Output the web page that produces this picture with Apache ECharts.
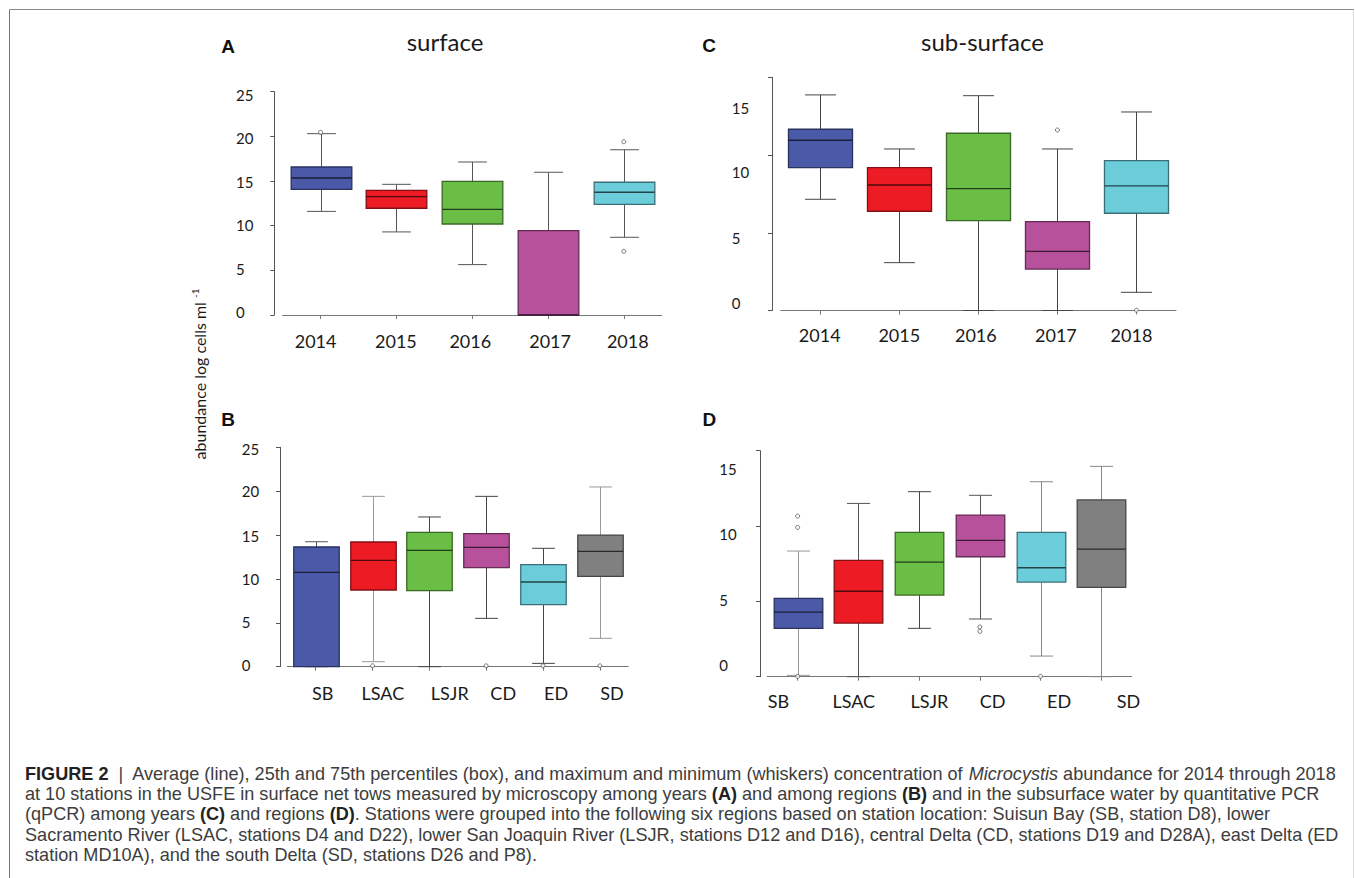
<!DOCTYPE html>
<html><head><meta charset="utf-8">
<script src="https://cdn.jsdelivr.net/npm/echarts@6/dist/echarts.min.js"></script>
<style>html,body{margin:0;padding:0;background:#fff}#c{width:1355px;height:878px}</style>
</head><body><div id="c"></div>
<script>
// ---------------- DATA ----------------
const yearCats = ['2014', '2015', '2016', '2017', '2018'];
const regionCats = ['SB', 'LSAC', 'LSJR', 'CD', 'ED', 'SD'];
const surfaceTicks = [0, 5, 10, 15, 20, 25];
const subTicks = [0, 5, 10, 15];
// each box: [min, q1, median, q3, max]
const surfaceYearBoxes = [
  [11.6, 14.07, 15.34, 16.57, 20.3],
  [9.3, 11.95, 13.25, 13.96, 14.63],
  [5.64, 10.19, 11.83, 14.97, 17.13],
  [0, 0, 0, 9.44, 15.98],
  [8.7, 12.39, 13.74, 14.86, 18.5]
];
const surfaceYearOutliers = [[0, 20.45], [4, 19.4], [4, 7.13]];
const surfaceRegionBoxes = [
  [0, 0, 10.75, 13.64, 14.24],
  [0.57, 8.74, 12.12, 14.21, 19.41],
  [0, 8.66, 13.26, 15.31, 17.06],
  [5.51, 11.28, 13.6, 15.16, 19.41],
  [0.38, 7.07, 9.65, 11.62, 13.49],
  [3.23, 10.3, 13.15, 15.0, 20.48]
];
const surfaceRegionOutliers = [[1, 0.1], [3, 0.1], [4, 0.1], [5, 0.1]];
const subYearBoxes = [
  [7.16, 9.2, 10.96, 11.67, 13.88],
  [3.08, 6.39, 8.08, 9.2, 10.4],
  [0, 5.78, 7.84, 11.41, 13.83],
  [0, 2.67, 3.81, 5.72, 10.4],
  [1.17, 6.26, 8.02, 9.65, 12.78]
];
const subYearOutliers = [[3, 11.62], [4, 0.02]];
const subRegionBoxes = [
  [0.09, 3.21, 4.29, 5.2, 8.34],
  [0, 3.56, 5.67, 7.72, 11.5],
  [3.21, 5.42, 7.61, 9.58, 12.28],
  [3.83, 7.96, 9.05, 10.73, 12.04],
  [1.37, 6.28, 7.23, 9.58, 12.94],
  [0, 5.93, 8.47, 11.73, 13.96]
];
const subRegionOutliers = [[0, 10.66], [0, 9.91], [0, 0.02], [3, 3.3], [3, 3.01], [4, 0.02]];

// ---------------- STYLE / LAYOUT ----------------
const palette = ['#4B5AA8', '#ED1C24', '#6ABD45', '#B8519B', '#6BCCDA', '#808080'];
const FONT = 'Lato';
function darken(hex, f) {
  const n = parseInt(hex.slice(1), 16);
  return 'rgb(' + Math.round(((n >> 16) & 255) * f) + ',' + Math.round(((n >> 8) & 255) * f) + ',' + Math.round((n & 255) * f) + ')';
}
const panels = [
  { cats: yearCats, boxes: surfaceYearBoxes, outliers: surfaceYearOutliers, ticks: surfaceTicks,
    grid: { left: 282.7, top: 91.7, width: 379, height: 223.3 }, yOff: 8.4, xOff: 5, yMargin: 38.3, xMargin: 12,
    yDy: { 0: -3.3, 5: -1.4, 10: -0.3, 15: 0.6, 20: 1.6, 25: 3.3 }, xDx: [-5, -0.5, -1.9, 2.1, 4],
    boxRatio: 0.8, capRatio: 0.38, whisker: ['#555', '#555', '#555', '#555', '#555'] },
  { cats: regionCats, boxes: surfaceRegionBoxes, outliers: surfaceRegionOutliers, ticks: surfaceTicks,
    grid: { left: 287.3, top: 447.3, width: 341, height: 219.4 }, yOff: 7.3, xOff: 4.3, yMargin: 38.3, xMargin: 13,
    yDy: { 0: -1.7, 5: -0.6, 10: -0.4, 15: 0.7, 20: 0, 25: 1.7 }, xDx: [7, 10.3, 20.4, 17, 13, 12],
    boxRatio: 0.8, capRatio: 0.4, whisker: ['#555', '#999', '#444', '#444', '#444', '#999'] },
  { cats: yearCats, boxes: subYearBoxes, outliers: subYearOutliers, ticks: subTicks,
    grid: { left: 780.7, top: 77.5, width: 395.3, height: 233 }, yOff: 8.7, xOff: 5.2, yMargin: 40.3, xMargin: 10,
    yDy: { 0: -7.8, 5: 5.4, 10: 17.3, 15: 30.8 }, xDx: [-0.5, 0, -2.5, -1.5, -5],
    boxRatio: 0.81, capRatio: 0.39, whisker: ['#444', '#444', '#444', '#444', '#444'] },
  { cats: regionCats, boxes: subRegionBoxes, outliers: subRegionOutliers, ticks: subTicks,
    grid: { left: 767.3, top: 450.7, width: 364.4, height: 226 }, yOff: 7.3, xOff: 4.3, yMargin: 40.7, xMargin: 10.5,
    yDy: { 0: -11.7, 5: -1.3, 10: 8.3, 15: 18.6 }, xDx: [-19.3, -4.6, 10.2, 12.8, 18.5, 27.1],
    boxRatio: 0.8, capRatio: 0.38, whisker: ['#999', '#555', '#444', '#555', '#888', '#888'] }
];

function makeRender(p) {
  return function (params, api) {
    const i = api.value(0);
    const lo = api.coord([i, api.value(1)]);
    const q1 = api.coord([i, api.value(2)]);
    const md = api.coord([i, api.value(3)]);
    const q3 = api.coord([i, api.value(4)]);
    const hi = api.coord([i, api.value(5)]);
    const band = api.size([1, 0])[0];
    const bw = band * p.boxRatio, cw = band * p.capRatio;
    const cx = Math.round(lo[0]) + 0.5;
    const fill = palette[i];
    const wc = p.whisker[i];
    const ws = () => ({ stroke: wc, lineWidth: 1 });
    return { type: 'group', children: [
      { type: 'line', shape: { x1: cx, y1: hi[1], x2: cx, y2: q3[1] }, style: ws() },
      { type: 'line', shape: { x1: cx, y1: q1[1], x2: cx, y2: lo[1] }, style: ws() },
      { type: 'line', shape: { x1: cx - cw / 2, y1: hi[1], x2: cx + cw / 2, y2: hi[1] }, style: ws() },
      { type: 'line', shape: { x1: cx - cw / 2, y1: lo[1], x2: cx + cw / 2, y2: lo[1] }, style: ws() },
      { type: 'rect', shape: { x: cx - bw / 2, y: q3[1], width: bw, height: q1[1] - q3[1] },
        style: { fill: fill, stroke: darken(fill, 0.55), lineWidth: 1.3 } },
      { type: 'line', shape: { x1: cx - bw / 2, y1: md[1], x2: cx + bw / 2, y2: md[1] },
        style: { stroke: darken(fill, 0.33), lineWidth: 1.3 } }
    ] };
  };
}

const grids = [], xAxes = [], yAxes = [], series = [];
panels.forEach((p, k) => {
  grids.push(Object.assign({ containLabel: false }, p.grid));
  const xRich = {};
  p.xDx.forEach((dx, i) => {
    xRich['x' + i] = { fontFamily: FONT, fontSize: 18, fill: '#1a1a1a', color: '#1a1a1a',
      padding: dx >= 0 ? [0, 0, 0, 2 * dx] : [0, -2 * dx, 0, 0] };
  });
  xAxes.push({
    type: 'category', gridIndex: k, data: p.cats, offset: p.xOff, boundaryGap: true,
    axisLine: { show: true, lineStyle: { color: '#777', width: 1 } },
    axisTick: { show: true, alignWithLabel: true, length: 4, lineStyle: { color: '#777' } },
    axisLabel: { interval: 0, margin: p.xMargin, fontFamily: FONT, fontSize: 18, color: '#1a1a1a',
      formatter: (v, i) => '{x' + i + '|' + v + '}', rich: xRich },
    splitLine: { show: false }
  });
  const yRich = {};
  p.ticks.forEach(t => {
    const dy = p.yDy[t] || 0;
    yRich['y' + t] = { fontFamily: FONT, fontSize: 15, fill: '#1a1a1a', color: '#1a1a1a',
      padding: dy >= 0 ? [2 * dy, 0, 0, 0] : [0, 0, -2 * dy, 0] };
  });
  yAxes.push({
    type: 'value', gridIndex: k, min: p.ticks[0], max: p.ticks[p.ticks.length - 1],
    interval: p.ticks[1] - p.ticks[0], offset: p.yOff,
    axisLine: { show: true, lineStyle: { color: '#555', width: 1 } },
    axisTick: { show: true, length: 4, lineStyle: { color: '#555' } },
    splitLine: { show: false },
    axisLabel: { align: 'left', margin: p.yMargin, fontFamily: FONT, fontSize: 15, color: '#1a1a1a',
      formatter: v => '{y' + v + '|' + v + '}', rich: yRich }
  });
  series.push({
    type: 'custom', xAxisIndex: k, yAxisIndex: k, renderItem: makeRender(p),
    encode: { x: 0, y: [1, 2, 3, 4, 5] },
    data: p.boxes.map((b, i) => [i].concat(b)), z: 2, silent: true
  });
  series.push({
    type: 'scatter', xAxisIndex: k, yAxisIndex: k, data: p.outliers,
    symbol: 'circle', symbolSize: 4,
    itemStyle: { color: '#fff', borderColor: '#555', borderWidth: 1 }, z: 3, silent: true
  });
});

const CAP_FS = 18.1;
const capStyle = { fontFamily: 'Liberation Sans', fontSize: CAP_FS, fill: '#3d3d3d' };
const capRich = {
  b: { fontFamily: 'Liberation Sans', fontSize: CAP_FS, fontWeight: 'bold', fill: '#222' },
  n: { fontFamily: 'Liberation Sans', fontSize: CAP_FS, fill: '#3d3d3d' },
  i: { fontFamily: 'Liberation Sans', fontSize: CAP_FS, fontStyle: 'italic', fill: '#3d3d3d' }
};
const capLines = [
  '{b|FIGURE 2}{n|  |  Average (line), 25th and 75th percentiles (box), and maximum and minimum (whiskers) concentration of }{i|Microcystis}{n| abundance for 2014 through 2018}',
  '{n|at 10 stations in the USFE in surface net tows measured by microscopy among years }{b|(A)}{n| and among regions }{b|(B)}{n| and in the subsurface water by quantitative PCR}',
  '{n|(qPCR) among years }{b|(C)}{n| and regions }{b|(D)}{n|. Stations were grouped into the following six regions based on station location: Suisun Bay (SB, station D8), lower}',
  '{n|Sacramento River (LSAC, stations D4 and D22), lower San Joaquin River (LSJR, stations D12 and D16), central Delta (CD, stations D19 and D28A), east Delta (ED}',
  '{n|station MD10A), and the south Delta (SD, stations D26 and P8).}'
];
const capY = [773.5, 794, 814.3, 834.8, 855];

const graphic = [
  { type: 'line', shape: { x1: 9.5, y1: 9.5, x2: 9.5, y2: 878 }, style: { stroke: '#777', lineWidth: 1 } },
  { type: 'line', shape: { x1: 9.5, y1: 9.5, x2: 1354, y2: 9.5 }, style: { stroke: '#888', lineWidth: 1 } },
  { type: 'line', shape: { x1: 1353.5, y1: 9.5, x2: 1353.5, y2: 878 }, style: { stroke: '#ddd', lineWidth: 1 } },
  { type: 'text', x: 445, y: 41.5, style: { text: 'surface', fontFamily: FONT, fontSize: 24, fill: '#1a1a1a', align: 'center', verticalAlign: 'middle' } },
  { type: 'text', x: 982.5, y: 41.5, style: { text: 'sub-surface', fontFamily: FONT, fontSize: 24, fill: '#1a1a1a', align: 'center', verticalAlign: 'middle' } },
  { type: 'text', x: 228.2, y: 46.5, style: { text: 'A', fontFamily: 'Liberation Sans', fontWeight: 'bold', fontSize: 19, fill: '#111', align: 'center', verticalAlign: 'middle' } },
  { type: 'text', x: 228, y: 419.5, style: { text: 'B', fontFamily: 'Liberation Sans', fontWeight: 'bold', fontSize: 19, fill: '#111', align: 'center', verticalAlign: 'middle' } },
  { type: 'text', x: 709.2, y: 45.5, style: { text: 'C', fontFamily: 'Liberation Sans', fontWeight: 'bold', fontSize: 19, fill: '#111', align: 'center', verticalAlign: 'middle' } },
  { type: 'text', x: 709.3, y: 419, style: { text: 'D', fontFamily: 'Liberation Sans', fontWeight: 'bold', fontSize: 19, fill: '#111', align: 'center', verticalAlign: 'middle' } },
  { type: 'text', x: 199.5, y: 374, rotation: Math.PI / 2,
    style: { text: '{t|abundance log cells ml }{s|-1}', align: 'center', verticalAlign: 'middle',
      rich: { t: { fontFamily: FONT, fontSize: 16, fill: '#1a1a1a', lineHeight: 20 },
              s: { fontFamily: FONT, fontSize: 10, fill: '#1a1a1a', verticalAlign: 'top', lineHeight: 20 } } } }
];
capLines.forEach((t, i) => {
  graphic.push({ type: 'text', x: 25, y: capY[i], style: Object.assign({}, capStyle, { text: t, align: 'left', verticalAlign: 'middle', rich: capRich }) });
});

const chart = echarts.init(document.getElementById('c'), null, { renderer: 'svg' });
chart.setOption({
  animation: false,
  backgroundColor: '#fff',
  grid: grids, xAxis: xAxes, yAxis: yAxes, series: series, graphic: graphic
});
</script>
</body></html>
